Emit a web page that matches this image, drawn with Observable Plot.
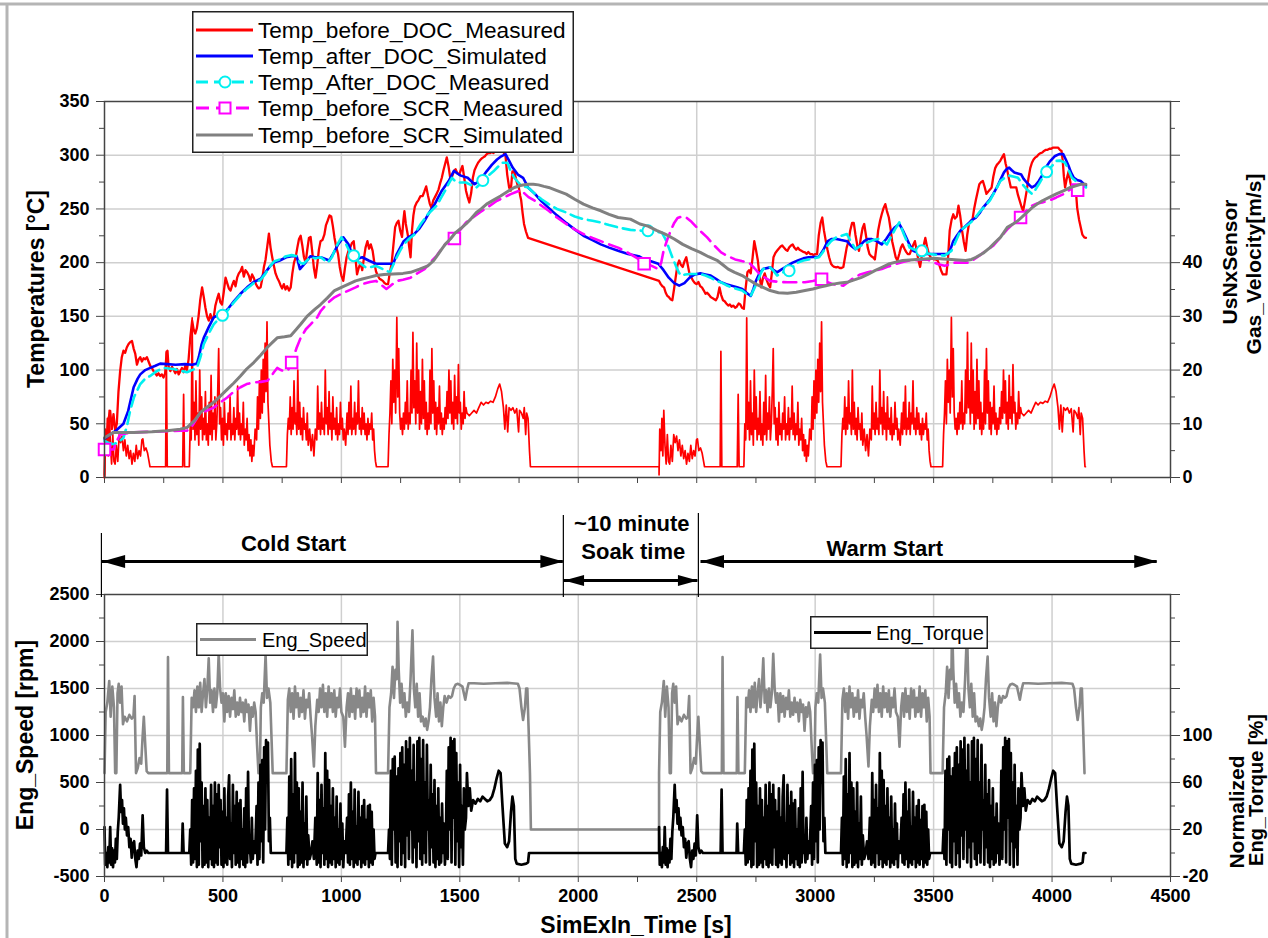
<!DOCTYPE html>
<html><head><meta charset="utf-8">
<script src="https://cdn.jsdelivr.net/npm/d3@7"></script>
<script src="https://cdn.jsdelivr.net/npm/@observablehq/plot@0.6"></script>
<style>
body{margin:0;background:#fff;}
#chart{position:relative;width:1268px;height:938px;overflow:hidden;background:#fff;font-family:"Liberation Sans",Arial,sans-serif;}
#chart svg{position:absolute;left:0;}
</style></head><body><div id="chart"></div>
<script>
// ---------- DATA ----------
const coldEnd = 1800, warmStart = 2341;
const xTicks = [0, 500, 1000, 1500, 2000, 2500, 3000, 3500, 4000, 4500];
const tempTicks = [0, 50, 100, 150, 200, 250, 300, 350];
const velTicks = [0, 10, 20, 30, 40, 50, 60, 70];
const speedTicks = [-500, 0, 500, 1000, 1500, 2000, 2500];
const torqueTicks = [-20, 20, 60, 100, 140, 180, 220];

// Temp_before_DOC_Measured [s, °C]
const tempBeforeDOC = [[0,0],[3,37],[10,34],[17,55],[24,62],[31,45],[38,59],[45,44],[52,50],[59,80],[66,99],[73,112],[80,118],[87,116],[94,121],[101,124],[108,126],[116,127],[123,120],[130,115],[137,105],[144,110],[151,112],[158,108],[165,111],[172,110],[179,112],[186,108],[193,104],[200,102],[207,99],[214,97],[221,95],[228,97],[235,94.5],[242,96],[249,93],[256,97],[262,116],[266,118],[270,104],[278,99],[285,103],[292,100],[299,97],[306,101],[313,96],[320,99],[327,102],[334,98],[341,104],[348,100],[355,110],[362,130],[370,146],[376,138],[383,134],[390,139],[397,150],[404,165],[412,177],[419,168],[426,158],[433,150],[440,146],[447,152],[454,147],[461,149],[468,160],[475,166],[482,171],[489,163],[496,161],[503,172],[511,186],[518,181],[525,176],[532,174],[539,179],[546,183],[553,178],[560,186],[567,190],[574,192],[581,196],[588,187],[595,193],[602,191],[609,188],[616,183],[623,189],[630,186],[637,181],[644,178],[651,176],[659,177],[666,185],[673,196],[680,203],[687,215],[694,227],[701,214],[708,205],[715,197],[722,190],[729,186],[736,183],[743,179],[750,176],[757,180],[764,175],[771,178],[779,174],[786,177],[793,190],[800,200],[807,205],[814,214],[821,222],[828,225],[835,216],[842,205],[849,200],[856,212],[863,223],[870,224],[877,210],[884,195],[891,186],[898,198],[905,212],[912,220],[920,221],[928,226],[935,235],[942,239],[950,244],[957,243],[964,234],[971,223],[978,215],[986,208],[993,196],[1000,188],[1008,183],[1015,195],[1022,205],[1030,211],[1037,214],[1044,218],[1052,220],[1059,205],[1066,189],[1073,195],[1081,200],[1088,193],[1095,204],[1102,214],[1110,220],[1117,213],[1124,217],[1132,211],[1139,200],[1146,192],[1153,188],[1161,185],[1168,184],[1175,183],[1182,181],[1190,180],[1197,180],[1204,190],[1212,199],[1219,215],[1227,233],[1234,237],[1241,239],[1248,230],[1256,224],[1262,240],[1266,248],[1272,236],[1281,225],[1286,215],[1292,205],[1298,230],[1304,244],[1310,252],[1318,256],[1325,258],[1334,262],[1343,262],[1350,266],[1358,271],[1366,262],[1373,255],[1380,251],[1388,258],[1395,261],[1402,264],[1410,268],[1417,274],[1424,279],[1431,286],[1438,292],[1445,298],[1452,290],[1460,278],[1467,280],[1475,285],[1482,287],[1490,283],[1497,282],[1504,286],[1511,290],[1518,280],[1526,267],[1533,261],[1540,256],[1548,265],[1555,279],[1562,286],[1570,290],[1577,293],[1584,295],[1592,297],[1599,298],[1606,299],[1613,301],[1621,302],[1628,302],[1635,303],[1642,302],[1650,304],[1657,305],[1664,306],[1672,307],[1679,305],[1686,302],[1693,299],[1700,282],[1708,270],[1715,267],[1722,285],[1730,285],[1737,278],[1744,272],[1749,270],[1755,262],[1759,258],[1765,246],[1771,236],[1779,229],[1788,223],
[2341,183],[2348,180],[2355,178],[2362,177],[2369,172],[2376,169],[2382,168],[2389,166],[2397,165],[2404,175],[2411,186],[2419,198],[2426,202],[2433,198],[2441,196],[2448,201],[2456,205],[2463,197],[2470,189],[2478,186],[2485,183],[2492,181],[2500,180],[2507,182],[2515,178],[2522,177],[2530,174],[2537,171],[2544,172],[2552,170],[2559,168],[2566,167],[2574,166],[2581,165],[2588,168],[2596,177],[2603,170],[2611,165],[2618,164],[2625,162],[2633,160],[2640,161],[2647,159],[2655,160],[2662,158],[2669,159],[2677,162],[2684,161],[2691,158],[2699,157],[2706,175],[2714,191],[2721,193],[2728,190],[2736,205],[2743,220],[2750,212],[2758,202],[2765,188],[2772,177],[2780,186],[2787,190],[2795,184],[2802,180],[2810,177],[2817,190],[2824,205],[2832,209],[2839,211],[2846,213],[2854,215],[2861,216],[2868,214],[2876,212],[2883,211],[2890,214],[2898,216],[2905,217],[2912,214],[2920,212],[2927,214],[2934,212],[2942,211],[2949,210],[2957,209.5],[2964,208],[2971,210],[2979,208],[2986,208],[2993,207],[3001,208],[3008,208],[3015,225],[3023,237],[3030,242],[3037,230],[3045,220],[3052,212],[3059,205],[3067,199],[3074,197],[3081,196],[3089,195.6],[3096,196],[3104,195],[3111,195],[3119,196],[3126,205],[3133,214],[3141,220],[3148,230],[3156,237],[3163,237],[3170,226],[3178,216],[3185,211],[3192,222],[3200,232],[3207,236],[3214,226],[3222,214],[3229,208],[3237,206],[3244,205],[3252,203],[3259,215],[3266,230],[3274,239],[3281,245],[3289,251],[3296,254.5],[3303,248],[3311,242],[3318,232],[3325,220],[3333,212],[3340,205],[3347,202],[3355,208],[3362,214],[3369,217],[3377,213],[3384,210],[3391,208],[3399,208],[3406,212],[3413,216],[3421,220],[3428,212],[3436,202],[3443,196],[3450,206],[3458,216],[3465,223],[3472,215],[3480,208],[3487,205],[3494,204],[3502,203],[3509,203],[3517,202],[3524,198],[3531,193],[3539,189],[3546,189],[3554,189],[3561,205],[3568,230],[3576,240],[3583,245],[3590,241],[3598,243],[3605,253],[3612,244],[3620,230],[3627,220],[3635,211],[3642,226],[3649,236],[3657,239],[3664,240],[3671,250],[3679,259],[3686,266],[3693,273],[3701,275],[3708,276],[3716,270],[3723,264],[3730,266],[3738,268],[3745,270],[3752,280],[3760,288],[3767,291],[3775,293],[3782,295],[3789,298],[3797,301],[3804,292],[3809,288],[3818,278],[3826,270],[3834,270],[3841,270],[3849,270],[3856,263],[3863,258],[3871,252],[3878,248],[3886,258],[3893,267],[3900,278],[3908,288],[3915,293],[3922,296],[3930,298],[3937,299],[3944,301],[3952,302],[3959,302.5],[3966,304],[3974,305],[3981,305],[3989,306],[3996,306],[4003,307],[4011,307],[4018,307],[4026,307],[4033,305],[4040,304],[4045,295],[4050,280],[4055,270],[4062,278],[4070,285],[4077,275],[4084,268],[4091,270],[4099,272],[4106,251],[4114,240],[4121,233],[4128,226],[4136,223.5],[4143,223]];

// Temp_after_DOC_Simulated
const tempAfterDOCSim = [[0,36],[24,40],[50,44],[80,50],[100,62],[123,84],[140,92],[151,96],[172,100],[193,102],[215,104],[235,106],[264,105.5],[300,105],[340,105.5],[370,105],[390,106],[398,112],[410,124],[419,130],[440,140],[461,149],[480,151],[504,153],[525,158],[546,164],[574,171],[602,177],[630,182],[659,185],[680,191],[700,197],[715,200],[740,202],[767,205],[790,206],[811,206],[825,194],[845,199],[869,206],[890,205],[913,205],[949,202],[970,210],[986,217],[1008,223.5],[1030,217],[1045,208],[1059,203],[1088,205],[1115,202],[1146,199],[1180,199],[1219,199],[1234,208],[1263,220],[1285,224],[1307,226.6],[1330,232],[1351,239],[1372,247],[1394,254.5],[1424,267],[1453,276],[1475,285.4],[1490,283],[1504,281],[1533,279],[1562,273],[1584,276],[1613,285],[1635,291],[1657,296],[1675,299],[1693,301],[1710,294],[1723,288.5],[1745,282],[1767,279],[1788,270],[1817,264],[1845,257],[1875,251],[1910,244],[1949,237],[1985,231],[2022,225],[2060,221],[2095,217],[2130,214],[2168,211],[2210,208],[2255,206],[2279,203],[2310,201],[2338,199],[2360,193],[2382,186],[2405,181],[2426,178.6],[2448,181],[2470,186],[2492,189],[2515,190],[2537,189],[2559,188],[2581,185],[2603,181.7],[2625,180],[2647,178.6],[2670,177],[2692,175.5],[2710,172],[2728,169],[2740,176],[2750,183],[2765,190],[2780,194],[2810,195.6],[2825,193],[2839,191],[2860,194],[2883,197],[2905,200],[2927,202],[2950,204],[2972,205],[3016,205.5],[3035,212],[3053,220],[3070,222],[3089,222],[3110,221],[3134,220],[3150,216],[3170,212.6],[3190,216],[3207,220],[3222,222],[3237,222],[3260,220],[3281,217],[3300,222],[3318,228],[3337,233],[3355,236],[3370,230],[3384,223.5],[3400,216],[3414,211],[3436,209],[3458,208],[3502,208],[3561,208],[3572,213],[3583,220],[3598,225],[3613,229.7],[3630,233],[3649,237],[3664,240],[3679,242],[3694,246],[3708,251],[3723,255],[3738,259],[3752,264],[3767,270],[3782,277],[3797,284],[3808,287],[3819,288.5],[3830,286],[3841,284],[3855,283],[3870,282],[3880,278],[3893,274.6],[3905,272],[3915,270],[3930,272],[3944,276],[3960,282],[3974,288.5],[3990,294],[4011,299],[4030,301],[4047,301],[4058,296],[4070,290],[4080,284],[4092,279],[4105,277],[4121,276],[4143,271.5]];

// Temp_After_DOC_Measured
const tempAfterDOCMeas = [[0,34],[20,32],[38,31],[60,33],[80,37],[95,48],[108,62],[125,75],[151,87],[172,92],[193,94.5],[220,99],[250,102],[270,101.5],[292,101],[320,99.5],[348,98],[370,100],[390,102],[405,112],[419,124],[440,134],[461,142.6],[480,147],[500,150],[525,157],[546,163],[574,170],[602,176],[630,181],[659,184],[680,190],[700,197],[715,201],[740,203],[767,206],[790,207],[811,206],[825,200],[840,199],[869,205],[890,204],[913,205],[942,200],[960,205],[978,215],[1000,223.5],[1020,217],[1040,208],[1052,206.5],[1075,200],[1103,195.6],[1125,196],[1146,197],[1175,194],[1205,191],[1227,202],[1245,210],[1263,217],[1285,222],[1307,226],[1335,236],[1365,245],[1402,253],[1420,260],[1438,267],[1452,273],[1467,279],[1480,276],[1496,274.6],[1526,274.6],[1550,272],[1570,270],[1585,273],[1599,276.8],[1620,281],[1642,285],[1660,289],[1679,293],[1701,293],[1715,285],[1730,279],[1759,271.5],[1788,270],[1817,264],[1845,259],[1875,254.5],[1910,250],[1949,246.7],[1985,243],[2022,240.5],[2060,239],[2095,237.4],[2130,235],[2168,232.8],[2220,230.5],[2267,229.7],[2294,229.7],[2325,228.5],[2353,228],[2368,222],[2382,214],[2397,205],[2412,197],[2424,191],[2434,188],[2452,189],[2470,189.4],[2492,189.4],[2515,189.4],[2537,188],[2559,186],[2581,183],[2603,181.7],[2625,179],[2647,177],[2670,175.5],[2692,174],[2710,171],[2728,169],[2743,176],[2758,183],[2770,190],[2780,194],[2810,195.6],[2825,192],[2839,188],[2865,191],[2890,192.5],[2910,197],[2927,200],[2950,202],[2972,203],[3016,205],[3030,209],[3045,214],[3067,220],[3089,223.5],[3110,225],[3134,226.6],[3150,220],[3170,212.6],[3195,216],[3222,219],[3244,221],[3266,222],[3285,220],[3303,217],[3320,224],[3337,231],[3355,237.4],[3377,225],[3399,214],[3421,212],[3443,211],[3465,209],[3487,208],[3546,206.5],[3575,211],[3590,218],[3613,229.7],[3630,233],[3649,236],[3670,240],[3693,247],[3715,252],[3738,258],[3760,267],[3782,276],[3800,279],[3819,281],[3840,280],[3856,279],[3875,273],[3893,268.4],[3905,266],[3915,264],[3930,268],[3944,273],[3960,279],[3981,285.4],[4000,290],[4018,294.7],[4035,295],[4055,293],[4070,286],[4084,279],[4100,276],[4121,273],[4143,270]];
const tempAfterDOCMarkers = [[498,151],[1052,206.5],[1597,276.5],[2294,229.7],[2890,192.5],[3450,211],[3977,284.5]];

// Temp_before_SCR_Measured
const tempBeforeSCRMeas = [[0,26],[20,26],[38,26],[50,33],[66,40],[90,41],[123,42],[180,42.5],[264,43],[320,43.5],[348,43.5],[370,48],[390,55],[405,60.5],[430,62],[461,65],[490,70],[518,74.5],[546,80],[574,84],[600,87],[630,88.5],[660,89],[687,90],[700,93],[715,98],[729,102],[745,100],[757,99],[775,100],[790,107],[810,120],[828,130],[850,138],[870,142.6],[898,149],[913,155],[940,162],[971,167.7],[1000,171],[1030,174],[1060,177],[1088,180],[1120,182],[1146,183],[1170,179],[1190,175.5],[1210,179],[1234,183],[1260,184],[1292,186],[1320,190],[1351,194],[1375,200],[1402,206.4],[1420,212],[1438,217],[1477,223.5],[1500,230],[1526,237.4],[1555,242],[1584,246.7],[1620,252],[1657,257.6],[1690,261],[1715,263.8],[1740,266],[1759,267.5],[1775,264],[1790,261],[1817,257.6],[1845,253],[1875,248.3],[1910,242],[1949,236],[1985,231],[2022,226.6],[2060,223],[2095,220],[2130,217],[2168,214],[2220,208],[2250,204],[2276,200],[2310,197],[2338,194],[2350,200],[2360,211],[2375,221],[2390,229.7],[2405,237],[2419,241.5],[2438,243],[2456,242],[2478,238],[2500,232.8],[2522,228],[2544,223.5],[2574,216],[2603,209.5],[2632,206],[2662,203],[2690,201.5],[2721,200],[2743,195],[2765,189.4],[2788,186],[2810,183],[2850,182],[2883,181.7],[2920,181.7],[2957,181.7],[2990,183],[3026,184.8],[3050,182],[3075,180],[3100,179],[3119,178.6],[3140,182],[3163,186],[3190,189],[3222,191],[3250,192.5],[3281,194],[3310,196.5],[3340,198.7],[3370,200.5],[3399,202],[3436,202.5],[3473,203],[3495,201],[3517,198.7],[3546,197],[3570,198.5],[3590,200],[3620,200],[3649,200],[3670,203],[3693,206.4],[3720,211],[3752,215.7],[3780,223],[3811,231],[3840,237],[3867,243.6],[3890,248],[3915,253],[3937,255],[3959,256],[3990,258],[4018,260.7],[4050,264],[4077,268.4],[4108,267.5],[4125,266],[4143,265.4]];
const tempBeforeSCRMarkers = [[0,26],[790,107],[1477,222.5],[2278,199],[3027,184.5],[3867,242],[4108,267.5]];

// Temp_before_SCR_Simulated
const tempBeforeSCRSim = [[0,37],[38,42],[80,42],[123,42],[200,42.5],[264,43.5],[320,45],[348,46.5],[380,53],[405,60.5],[430,65],[461,70],[490,76],[518,82],[546,88],[574,94.5],[600,101],[630,107],[660,114],[687,121],[710,126],[729,130],[760,131],[786,132],[810,138],[828,142.6],[855,150],[870,153],[890,157],[912,161],[940,167],[971,174],[1000,177],[1030,180],[1060,183],[1088,184.8],[1120,186.5],[1146,188],[1180,189],[1219,189.4],[1260,190],[1292,191],[1330,194],[1365,197],[1390,202],[1409,208],[1425,213],[1438,217],[1460,222],[1482,228],[1505,232],[1526,236],[1548,241],[1570,246.7],[1590,250],[1613,254.5],[1640,258],[1672,262],[1700,266],[1730,270],[1760,272],[1788,273],[1810,273],[1832,272.4],[1855,271],[1875,270],[1910,267],[1949,263.8],[1985,259],[2022,254.5],[2060,251],[2095,248.3],[2130,245],[2168,242],[2220,240.5],[2260,236],[2294,234],[2330,230],[2367,226.6],[2405,222],[2441,217],[2478,213],[2515,209.5],[2550,205.5],[2588,201.8],[2610,198],[2633,194],[2660,191],[2692,188],[2720,184],[2750,180],[2780,177],[2810,174],[2845,172],[2883,171.5],[2920,172.5],[2957,174],[2990,175.5],[3016,177],[3045,178.5],[3075,180],[3105,181],[3134,181.7],[3165,184],[3193,186],[3222,189],[3252,192.5],[3280,195.5],[3310,198.7],[3340,200.5],[3369,202],[3400,202.5],[3428,203],[3465,203.5],[3502,204],[3540,203.5],[3576,203],[3605,202.5],[3635,202],[3660,203],[3679,205],[3710,209],[3738,214],[3760,219],[3782,223.5],[3796,228],[3811,232.8],[3835,236],[3856,239],[3885,245],[3915,251],[3937,254.5],[3959,257.6],[3990,261],[4018,264],[4050,267],[4077,270],[4100,271.5],[4121,273],[4143,273]];

// Drive cycle (same cycle run cold, then warm after the soak): [s within cycle, value]
// UsNxSensor Gas_Velocity [m/s]
const gasVelocityCycle = [[0,0.5],[3,9],[8,5],[12,11],[16,4],[20,12.5],[25,6],[30,2.5],[35,8],[40,3],[45,2.5],[50,6],[56,3],[62,8],[68,6.5],[74,7.7],[80,5],[86,7],[92,4],[98,6],[104,3.5],[110,5],[116,2.5],[122,4.5],[128,3],[134,6],[140,3.5],[146,5],[152,4],[158,7],[162,7.2],[168,5],[175,5.5],[182,4.5],[188,3],[192,2],[258,2],[261,23.5],[265,2],[330,2],[334,15.5],[338,2],[358,2],[362,10],[366,7],[370,29.7],[374,9],[378,14],[382,7],[386,18],[390,8],[394,12],[398,6],[402,20],[406,9],[410,15],[414,7],[418,11],[422,8],[426,16],[430,7],[434,10],[438,6],[442,14],[446,8],[450,19],[454,7],[458,12],[462,9],[466,15],[470,7],[474,10],[478,16],[482,24],[486,10],[490,13],[494,7],[498,11],[502,6],[506,14],[510,8],[514,10],[518,7],[522,12],[526,9],[530,15],[534,7],[538,10],[542,8],[546,13],[550,7],[554,11],[558,9],[562,17],[566,8],[570,12],[574,7],[578,10],[582,8],[586,14],[590,6],[594,9],[598,7],[602,11],[606,5],[610,8],[614,4],[618,7],[622,3],[626,6],[630,4],[636,9],[642,7],[646,15],[650,9],[654,18],[658,11],[662,20],[666,12],[670,22],[674,14],[678,25],[682,16],[686,29],[690,14],[694,10],[698,6],[704,3],[709,2],[768,2],[772,8],[776,11],[780,9],[784,15],[788,8],[792,13],[796,9],[800,18],[804,10],[808,12],[812,8],[816,20],[820,9],[824,14],[828,8],[832,11],[836,7],[840,13],[844,9],[848,10],[852,7],[856,12],[860,6],[866,9],[872,5],[878,8],[884,4],[890,9],[896,7],[900,17],[904,9],[908,12],[912,8],[916,14],[920,9],[924,11],[928,8],[932,20],[936,10],[940,13],[944,8],[948,16],[952,9],[956,12],[960,7],[964,15],[968,9],[972,11],[976,8],[980,13],[984,7],[988,10],[992,8],[996,14],[1000,9],[1004,11],[1008,7],[1012,9],[1018,6],[1024,12],[1028,8],[1032,14],[1036,9],[1040,17],[1044,8],[1048,11],[1052,9],[1056,14],[1060,8],[1064,12],[1068,10],[1072,18],[1076,9],[1080,11],[1084,8],[1088,13],[1092,9],[1096,12],[1100,8],[1104,10],[1108,7],[1112,11],[1116,8],[1120,10],[1124,9],[1128,12],[1132,7],[1136,9],[1140,5],[1144,3],[1148,2],[1197,2],[1201,8],[1205,12],[1209,18],[1213,10],[1217,22],[1221,14],[1225,20],[1229,12],[1234,29.8],[1238,15],[1242,24],[1246,12],[1250,9],[1254,11],[1258,8],[1262,12],[1266,9],[1270,14],[1274,10],[1278,18],[1282,9],[1286,12],[1290,10],[1294,20],[1298,12],[1302,27],[1306,13],[1310,18],[1314,10],[1318,25],[1322,12],[1326,20],[1330,9],[1334,16],[1338,10],[1342,22],[1346,11],[1350,18],[1354,9],[1358,14],[1362,8],[1366,12],[1370,9],[1374,20],[1378,10],[1382,24],[1386,12],[1390,18],[1394,9],[1398,14],[1402,8],[1406,13],[1410,10],[1414,17],[1418,9],[1422,12],[1426,8],[1430,11],[1434,9],[1438,13],[1442,10],[1446,16],[1450,11],[1454,20],[1458,12],[1462,18],[1466,10],[1470,14],[1474,9],[1478,19],[1482,11],[1486,15],[1490,10],[1494,21],[1498,12],[1502,14],[1506,9],[1510,12],[1514,10],[1518,16],[1522,11],[1526,13],[1530,12],[1540,11.5],[1550,12],[1560,12.5],[1570,12],[1580,13],[1590,14],[1600,13.5],[1610,14],[1620,13.8],[1630,14.2],[1640,14],[1650,15],[1660,16.5],[1668,17.4],[1676,16],[1684,13],[1690,9],[1696,13.5],[1702,8.5],[1708,13],[1716,12.5],[1724,13],[1732,12],[1740,12.8],[1748,8.5],[1752,12.5],[1760,12],[1768,11],[1772,13],[1778,8],[1782,12],[1788,11],[1794,5],[1798,2],[1800,2]];

// Eng_Speed [rpm]
const engSpeedCycle = [[0,600],[5,1250],[12,1350],[20,1580],[26,1200],[33,1520],[40,1300],[45,600],[50,600],[55,1450],[60,1550],[66,1350],[72,1520],[78,1120],[85,1200],[95,1150],[105,1220],[115,1180],[122,1200],[127,1420],[133,600],[140,650],[148,760],[155,700],[160,950],[166,1200],[172,900],[178,620],[185,600],[265,600],[268,1835],[272,600],[328,600],[331,1410],[335,600],[362,600],[368,1400],[374,1300],[380,1480],[386,1250],[392,1520],[398,1300],[404,1560],[410,1250],[416,1450],[422,1600],[428,1300],[434,1500],[440,1820],[446,1350],[452,1480],[458,1250],[464,1500],[470,1300],[476,1450],[482,1870],[488,1500],[494,1350],[500,1450],[506,1150],[512,1450],[518,1250],[524,1420],[530,1200],[536,1400],[542,1280],[548,1480],[554,1200],[560,1350],[566,1220],[572,1400],[578,1250],[584,1350],[590,1150],[596,1380],[602,1250],[608,1330],[614,1050],[620,1300],[626,1200],[632,1350],[638,1250],[644,900],[650,600],[656,620],[660,1300],[666,1450],[672,1350],[680,1860],[686,1400],[692,1500],[700,1350],[706,900],[710,600],[768,600],[774,1380],[780,1500],[786,1250],[792,1450],[798,1180],[804,1520],[810,1300],[816,1450],[822,1200],[828,1400],[834,1250],[840,1480],[846,1180],[852,1380],[858,1300],[864,1450],[870,1200],[876,1000],[884,670],[890,1100],[898,1380],[904,1250],[910,1500],[916,1300],[922,1540],[928,1250],[934,1450],[940,1200],[946,1520],[952,1300],[958,1450],[964,1250],[970,1480],[976,1200],[982,1400],[988,1300],[994,1500],[1000,1250],[1008,1200],[1015,880],[1022,1300],[1028,1450],[1034,1200],[1040,1500],[1046,1250],[1052,1420],[1058,1180],[1064,1500],[1070,1300],[1076,1480],[1082,1200],[1088,1400],[1094,1250],[1100,1520],[1106,1200],[1112,1450],[1118,1300],[1124,1480],[1130,1150],[1136,1400],[1142,1200],[1146,600],[1197,600],[1203,1300],[1210,1450],[1216,1730],[1222,1400],[1228,1700],[1234,1600],[1237,2210],[1242,1700],[1248,1350],[1254,1550],[1260,1300],[1266,1450],[1272,1200],[1278,1350],[1285,1250],[1292,1600],[1300,2120],[1306,1500],[1312,1300],[1318,1550],[1324,1200],[1330,1450],[1336,1150],[1343,1200],[1350,1100],[1356,1180],[1362,1060],[1368,1150],[1374,1300],[1380,1600],[1387,1840],[1393,1400],[1400,1200],[1406,1450],[1412,1150],[1418,1350],[1424,1100],[1430,1300],[1436,1420],[1444,1350],[1452,1420],[1460,1400],[1467,1420],[1474,1500],[1482,1540],[1490,1550],[1500,1540],[1511,1520],[1517,1450],[1523,1380],[1530,1480],[1537,1556],[1560,1556],[1600,1550],[1650,1556],[1700,1560],[1720,1556],[1745,1550],[1752,1500],[1760,1300],[1767,1165],[1775,1300],[1780,1500],[1785,1500],[1790,1100],[1796,600],[1800,0]];

// Eng_Torque, normalized [%]
const engTorqueCycle = [[0,22],[3,-10],[8,0],[12,-12],[16,5],[20,-8],[24,22],[28,-10],[32,4],[36,-12],[40,2],[44,-8],[48,12],[52,-5],[56,18],[60,30],[66,58],[70,35],[74,45],[78,25],[82,38],[86,20],[90,30],[95,15],[100,22],[105,5],[110,12],[115,-4],[120,8],[125,10],[130,-5],[135,-12],[140,2],[145,-5],[150,8],[155,-2],[161,32],[166,5],[172,0],[178,2],[185,0],[260,0],[264,54],[268,0],[327,0],[330,25],[334,0],[358,0],[362,20],[366,-10],[370,45],[374,-8],[378,55],[382,-5],[386,70],[390,-12],[394,88],[398,-10],[402,93],[406,10],[410,60],[414,-12],[418,40],[422,-10],[426,55],[430,-8],[434,45],[438,-12],[442,30],[446,-5],[450,58],[454,-10],[458,40],[462,-12],[466,60],[470,-8],[474,50],[478,-10],[482,58],[486,5],[490,45],[494,-10],[498,35],[502,-12],[506,55],[510,-8],[514,30],[518,-10],[522,48],[526,66],[530,-5],[534,25],[538,-12],[542,58],[546,0],[550,40],[554,-10],[558,52],[562,-8],[566,42],[570,-12],[574,45],[578,-5],[582,20],[586,-10],[590,38],[594,-12],[598,55],[602,-8],[606,69],[610,0],[614,5],[618,-8],[622,30],[626,-5],[630,10],[636,0],[642,40],[646,-10],[650,60],[654,-5],[658,75],[662,10],[666,79],[670,-8],[674,90],[678,20],[682,96],[686,60],[690,94],[694,10],[698,30],[702,0],[708,0],[768,0],[772,30],[776,-10],[780,65],[784,-5],[788,80],[792,-12],[796,50],[800,-8],[804,85],[808,0],[812,60],[816,-12],[820,55],[824,-10],[828,35],[832,-8],[836,60],[840,-12],[844,25],[848,-5],[852,48],[856,-10],[860,15],[866,-5],[872,0],[878,10],[884,-5],[890,30],[896,-10],[900,68],[904,-8],[908,45],[912,-12],[916,58],[920,0],[924,38],[928,-10],[932,85],[936,-5],[940,70],[944,-12],[948,62],[952,-8],[956,40],[960,-10],[964,55],[968,-5],[972,30],[976,-12],[980,48],[984,-8],[988,20],[992,-10],[996,42],[1000,-5],[1004,25],[1008,-12],[1012,10],[1018,0],[1024,30],[1028,-8],[1032,50],[1036,-10],[1040,60],[1044,-5],[1048,35],[1052,-12],[1056,54],[1060,-8],[1064,22],[1068,-10],[1072,52],[1076,-5],[1080,30],[1084,-12],[1088,40],[1092,-8],[1096,45],[1100,-10],[1104,28],[1108,-5],[1112,40],[1116,-12],[1120,41],[1124,-8],[1128,35],[1132,-10],[1136,20],[1140,-5],[1144,0],[1197,0],[1201,20],[1205,-5],[1209,70],[1213,-10],[1217,80],[1221,20],[1225,82],[1229,-8],[1233,65],[1237,-12],[1241,72],[1245,10],[1249,85],[1253,-10],[1257,90],[1261,0],[1265,75],[1269,-12],[1273,95],[1277,15],[1281,88],[1285,-5],[1289,98],[1293,20],[1297,70],[1301,-8],[1305,92],[1309,5],[1313,60],[1317,-12],[1321,95],[1325,10],[1329,98],[1333,-5],[1337,80],[1341,-10],[1345,96],[1349,0],[1353,60],[1357,-8],[1361,92],[1365,20],[1369,45],[1373,-10],[1377,75],[1381,5],[1385,50],[1389,-8],[1393,62],[1397,-12],[1401,40],[1405,-5],[1409,55],[1413,-10],[1417,30],[1421,-8],[1425,42],[1429,0],[1433,25],[1437,-10],[1441,10],[1445,70],[1449,-5],[1453,90],[1457,20],[1461,98],[1465,-8],[1469,95],[1473,30],[1477,97],[1481,-10],[1485,85],[1489,10],[1493,60],[1497,-12],[1501,75],[1505,5],[1509,40],[1513,-10],[1517,55],[1521,20],[1526,30],[1530,68],[1536,40],[1542,55],[1548,36],[1556,45],[1566,42],[1576,46],[1586,44],[1596,48],[1606,46],[1616,44],[1626,45],[1636,48],[1646,55],[1656,64],[1664,70],[1672,68],[1680,40],[1690,8],[1700,5],[1708,10],[1716,35],[1722,48],[1728,40],[1734,-5],[1740,-9],[1760,-10],[1780,-9],[1788,-8],[1792,0],[1800,0]];

// Phase annotation (cycle phases, s)
const phaseNames = ["Cold Start", "~10 minute", "Soak time", "Warm Start"];
const phaseBounds = [-13, 1937, 2507];

// ---------- BUILD ----------
const FONT = '"Liberation Sans", Arial, Helvetica, sans-serif';
const W = 1268, ML = 104, MR = 98;
const chart = document.getElementById("chart");
const toObj = a => a.map(([t, v]) => ({t, v}));
const shift = (a, dt) => a.map(([t, v]) => ({t: t + dt, v}));

const velSeries = [...toObj(gasVelocityCycle), {t: warmStart, v: 2}, ...shift(gasVelocityCycle, warmStart)];
const speedSeries = [...toObj(engSpeedCycle), {t: warmStart, v: 0}, ...shift(engSpeedCycle.filter(d => d[0] < coldEnd), warmStart)];
const torqueSeries = [...toObj(engTorqueCycle), {t: warmStart, v: 0}, ...shift(engTorqueCycle, warmStart)];

const velToTemp = v => v * 5;            // right axis of upper panel
const torqueToRpm = q => q * 12.5 - 250;  // right axis of lower panel

const baseStyle = {fontFamily: FONT, fontSize: "18px", fontWeight: "bold", color: "#000", background: "transparent", overflow: "visible"};
const gridStyle = {stroke: "#cfcfcf", strokeOpacity: 1, strokeWidth: 1.5};
const axisStroke = "#444";
const minor = (ticks) => ticks.slice(0, -1).map((d, i) => (d + ticks[i + 1]) / 2);

function place(node, top) {
  node.style.position = "absolute"; node.style.left = "0px"; node.style.top = top + "px";
  chart.appendChild(node);
}

// Upper panel
const topPlot = Plot.plot({
  width: W, height: 490, marginLeft: ML, marginRight: MR, marginTop: 101, marginBottom: 13,
  style: baseStyle,
  x: {domain: [0, 4500], label: null},
  y: {domain: [0, 350], label: null},
  marks: [
    Plot.gridX(xTicks.slice(1, -1), gridStyle),
    Plot.gridY(tempTicks.slice(1, -1), gridStyle),
    Plot.axisX([...xTicks, ...minor(xTicks)], {anchor: "bottom", tickSize: 6, tickFormat: () => "", stroke: axisStroke, label: null}),
    Plot.axisY(tempTicks, {anchor: "left", tickSize: 8, tickPadding: 7, tickFormat: d => String(d), stroke: axisStroke, label: null}),
    Plot.axisY(minor(tempTicks), {anchor: "left", tickSize: 5, tickFormat: () => "", stroke: axisStroke, label: null}),
    Plot.axisY(velTicks.map(velToTemp), {anchor: "right", tickSize: 9, tickPadding: 3, tickFormat: d => (d / 5 <= 40 ? String(d / 5) : ""), stroke: axisStroke, label: null}),
    Plot.axisY(minor(velTicks).map(velToTemp), {anchor: "right", tickSize: 4, tickFormat: () => "", stroke: axisStroke, label: null}),
    Plot.line(velSeries, {x: "t", y: d => velToTemp(d.v), stroke: "#ff0000", strokeWidth: 1.7}),
    Plot.line(toObj(tempBeforeDOC), {x: "t", y: "v", stroke: "#ff0000", strokeWidth: 2.3}),
    Plot.line(toObj(tempAfterDOCSim), {x: "t", y: "v", stroke: "#0000ff", strokeWidth: 2.6}),
    Plot.line(toObj(tempAfterDOCMeas), {x: "t", y: "v", stroke: "#00f0f0", strokeWidth: 2.6, strokeDasharray: "12,6"}),
    Plot.dot(toObj(tempAfterDOCMarkers), {x: "t", y: "v", r: 5.5, stroke: "#00f0f0", fill: "white", strokeWidth: 2}),
    Plot.line(toObj(tempBeforeSCRMeas), {x: "t", y: "v", stroke: "#ff00ff", strokeWidth: 2.6, strokeDasharray: "13,7"}),
    Plot.dot(toObj(tempBeforeSCRMarkers), {x: "t", y: "v", r: 6.5, symbol: "square", stroke: "#ff00ff", fill: "white", strokeWidth: 2}),
    Plot.line(toObj(tempBeforeSCRSim), {x: "t", y: "v", stroke: "#808080", strokeWidth: 3}),
    Plot.frame({stroke: axisStroke, strokeWidth: 1.5})
  ]
});
place(topPlot, 0);

// Lower panel
const botPlot = Plot.plot({
  width: W, height: 378, marginLeft: ML, marginRight: MR, marginTop: 34, marginBottom: 62,
  style: baseStyle,
  x: {domain: [0, 4500], label: null},
  y: {domain: [-500, 2500], label: null},
  marks: [
    Plot.gridX(xTicks.slice(1, -1), gridStyle),
    Plot.gridY(speedTicks.slice(1, -1), gridStyle),
    Plot.axisX(xTicks, {anchor: "bottom", tickSize: 6, tickPadding: 7, tickFormat: d => String(d), stroke: axisStroke, label: null}),
    Plot.axisX(minor(xTicks), {anchor: "bottom", tickSize: 6, tickFormat: () => "", stroke: axisStroke, label: null}),
    Plot.axisY(speedTicks, {anchor: "left", tickSize: 8, tickPadding: 7, tickFormat: d => String(d), stroke: axisStroke, label: null}),
    Plot.axisY(minor(speedTicks), {anchor: "left", tickSize: 5, tickFormat: () => "", stroke: axisStroke, label: null}),
    Plot.axisY(torqueTicks.map(torqueToRpm), {anchor: "right", tickSize: 9, tickPadding: 3, tickFormat: d => { const q = (d + 250) / 12.5; return q <= 100 ? String(q) : ""; }, stroke: axisStroke, label: null}),
    Plot.axisY(minor(torqueTicks).map(torqueToRpm), {anchor: "right", tickSize: 4, tickFormat: () => "", stroke: axisStroke, label: null}),
    Plot.line(speedSeries, {x: "t", y: "v", stroke: "#888888", strokeWidth: 2.6}),
    Plot.line(torqueSeries, {x: "t", y: d => torqueToRpm(d.v), stroke: "#000000", strokeWidth: 2.7}),
    Plot.frame({stroke: axisStroke, strokeWidth: 1.5})
  ]
});
place(botPlot, 560);

// Phase annotation band
const headRight = {draw(ctx) { ctx.moveTo(0, 0); ctx.lineTo(-23, -6.5); ctx.lineTo(-23, 6.5); ctx.closePath(); }};
const headLeft = {draw(ctx) { ctx.moveTo(0, 0); ctx.lineTo(23, -6.5); ctx.lineTo(23, 6.5); ctx.closePath(); }};
const headRightS = {draw(ctx) { ctx.moveTo(0, 0); ctx.lineTo(-20, -5.5); ctx.lineTo(-20, 5.5); ctx.closePath(); }};
const headLeftS = {draw(ctx) { ctx.moveTo(0, 0); ctx.lineTo(20, -5.5); ctx.lineTo(20, 5.5); ctx.closePath(); }};
const arrows = [
  {x1: -10, x2: 1937, y: 81, big: true},
  {x1: 1940, x2: 2505, y: 100, big: false},
  {x1: 2518, x2: 4444, y: 81, big: true}
];
const midPlot = Plot.plot({
  width: W, height: 120, marginLeft: ML, marginRight: MR, marginTop: 0, marginBottom: 0,
  style: {...baseStyle, fontSize: "22px"},
  x: {domain: [0, 4500], axis: null},
  y: {domain: [0, 120], range: [0, 120], axis: null},
  marks: [
    Plot.ruleX([{x: phaseBounds[0], y1: 53}, {x: phaseBounds[1], y1: 35}, {x: phaseBounds[2], y1: 33}], {x: "x", y1: "y1", y2: 117, stroke: "#000", strokeWidth: 1.2}),
    Plot.ruleY(arrows, {x1: "x1", x2: "x2", y: "y", stroke: "#000", strokeWidth: 2.8}),
    Plot.dot(arrows.filter(a => a.big), {x: "x1", y: "y", symbol: headLeft, fill: "#000", stroke: null, r: 10}),
    Plot.dot(arrows.filter(a => a.big), {x: "x2", y: "y", symbol: headRight, fill: "#000", stroke: null, r: 10}),
    Plot.dot(arrows.filter(a => !a.big), {x: "x1", y: "y", symbol: headLeftS, fill: "#000", stroke: null, r: 10}),
    Plot.dot(arrows.filter(a => !a.big), {x: "x2", y: "y", symbol: headRightS, fill: "#000", stroke: null, r: 10}),
    Plot.text([
      {x: 798, y: 63, text: phaseNames[0]},
      {x: 2226, y: 43, text: phaseNames[1]},
      {x: 2232, y: 71, text: phaseNames[2]},
      {x: 3294, y: 68, text: phaseNames[3]}
    ], {x: "x", y: "y", text: "text", fontSize: 22, fontWeight: "bold", fill: "#000"})
  ]
});
place(midPlot, 480);

// Axis titles, legends, window border
const ns = "http://www.w3.org/2000/svg";
const over = document.createElementNS(ns, "svg");
over.setAttribute("width", W); over.setAttribute("height", 938);
over.style.fontFamily = FONT;
over.innerHTML = `
  <line x1="0" y1="4" x2="1268" y2="4" stroke="#b5b5b5" stroke-width="3"/>
  <line x1="7" y1="4" x2="7" y2="938" stroke="#b5b5b5" stroke-width="3"/>
  <g font-weight="bold" font-size="23" fill="#000" text-anchor="middle">
    <text transform="translate(44,289) rotate(-90)">Temperatures [°C]</text>
    <text transform="translate(33,735) rotate(-90)">Eng_Speed [rpm]</text>
    <text x="636" y="933">SimExIn_Time [s]</text>
  </g>
  <g font-weight="bold" font-size="21" fill="#000" text-anchor="middle">
    <text transform="translate(1237,262) rotate(-90)">UsNxSensor</text>
    <text transform="translate(1261,264) rotate(-90)">Gas_Velocity[m/s]</text>
    <text transform="translate(1244,812) rotate(-90)">Normalized</text>
  </g>
  <text transform="translate(1263,790) rotate(-90)" font-weight="bold" font-size="20" fill="#000" text-anchor="middle">Eng_Torque [%]</text>
  <g font-size="22.6" fill="#000">
    <rect x="192.75" y="11.75" width="380.5" height="140.5" fill="#fff" stroke="#222" stroke-width="1.5"/>
    <line x1="196" x2="253" y1="30" y2="30" stroke="#ff0000" stroke-width="3"/>
    <line x1="196" x2="253" y1="56" y2="56" stroke="#0000ff" stroke-width="3"/>
    <line x1="196" x2="253" y1="82" y2="82" stroke="#00f0f0" stroke-width="3" stroke-dasharray="12,6"/>
    <circle cx="225" cy="82" r="5.5" fill="#fff" stroke="#00f0f0" stroke-width="2"/>
    <line x1="196" x2="253" y1="108" y2="108" stroke="#ff00ff" stroke-width="3" stroke-dasharray="13,7"/>
    <rect x="219.5" y="102.5" width="11" height="11" fill="#fff" stroke="#ff00ff" stroke-width="2"/>
    <line x1="196" x2="253" y1="135" y2="135" stroke="#808080" stroke-width="3"/>
    <text x="258" y="30" dy="0.36em">Temp_before_DOC_Measured</text>
    <text x="258" y="56" dy="0.36em">Temp_after_DOC_Simulated</text>
    <text x="258" y="82" dy="0.36em">Temp_After_DOC_Measured</text>
    <text x="258" y="108" dy="0.36em">Temp_before_SCR_Measured</text>
    <text x="258" y="135" dy="0.36em">Temp_before_SCR_Simulated</text>
  </g>
  <g font-size="20" fill="#000">
    <rect x="196.75" y="623.75" width="170.5" height="31.5" fill="#fff" stroke="#222" stroke-width="1.5"/>
    <line x1="200" x2="256" y1="639.5" y2="639.5" stroke="#888" stroke-width="3"/>
    <text x="262" y="639.5" dy="0.36em">Eng_Speed</text>
    <rect x="810.75" y="616.75" width="176.5" height="31.5" fill="#fff" stroke="#222" stroke-width="1.5"/>
    <line x1="814" x2="871" y1="632.5" y2="632.5" stroke="#000" stroke-width="3"/>
    <text x="876" y="632.5" dy="0.36em">Eng_Torque</text>
  </g>`;
place(over, 0);
</script>
</body></html>
